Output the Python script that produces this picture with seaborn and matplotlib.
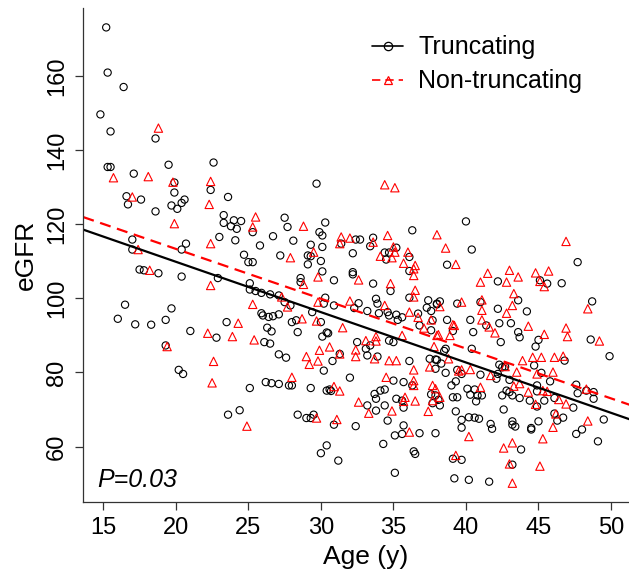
import numpy as np
import pandas as pd
import matplotlib
matplotlib.use("Agg")
import matplotlib.pyplot as plt
from matplotlib.lines import Line2D
import seaborn as sns

# Truncating (open circles)
trunc_age = [15.2, 15.3, 16.4, 14.8, 15.5, 18.6, 15.3, 15.5, 17.1, 19.5, 22.6, 19.9, 19.9, 22.4, 23.6, 16.6, 17.6, 20.6,
             16.7, 19.7, 20.1, 20.4, 18.6, 23.3, 23.3, 24.0, 24.5, 23.8, 24.2, 25.3, 23.0, 24.1, 25.8, 17.0, 17.0, 20.7,
             20.4, 24.7, 25.0, 25.3, 17.5, 17.8, 18.8, 20.4, 22.9, 25.1, 25.1, 25.5, 25.9, 16.5, 16.0, 17.2, 18.3, 19.7,
             19.3, 21.0, 22.8, 23.5, 25.9, 26.0, 26.1, 19.3, 20.2, 20.5, 25.1, 23.6, 24.4,
             29.7, 27.5, 27.7, 30.3, 26.7, 28.1, 29.9, 30.1, 29.3, 30.1, 27.2, 29.1, 29.3, 30.0, 29.1, 30.1, 28.6, 30.9,
             32.4, 32.7, 31.4, 33.6, 33.4, 32.2, 36.3, 35.2, 34.4, 34.7, 34.5, 36.1, 36.1, 32.2, 32.2,
             28.6, 33.6, 34.8, 36.1, 37.4, 38.0, 26.5, 27.1, 27.9, 27.5, 26.4, 26.7, 27.1, 28.0, 28.3, 29.4, 30.3, 30.2,
             30.0, 30.9, 32.6, 32.3, 33.2, 33.8, 33.9, 34.0, 34.6, 34.7, 35.2, 35.3, 35.6, 36.7, 37.3, 37.6, 37.7, 36.8,
             37.6, 26.3, 26.6, 28.4, 30.4, 30.5, 30.1, 26.5, 27.1, 27.6, 26.2, 26.6, 27.1, 27.8, 28.0, 30.2, 30.8, 31.3,
             33.1, 33.2, 32.5, 33.4, 33.9, 34.7, 35.0, 36.1, 37.9, 32.0, 35.0, 35.7, 36.3, 29.3, 30.4, 30.6, 30.7, 33.7,
             34.1, 34.4, 33.8, 33.2, 33.8, 34.4, 35.2, 35.6, 35.7, 34.6, 28.4, 29.0, 29.3, 29.5, 30.9, 32.4, 35.7, 35.6,
             36.8, 35.1, 37.9, 34.3, 30.4, 30.0, 31.2, 36.4, 36.5, 35.1,
             40.0, 40.4, 38.7, 47.7, 42.2, 45.1, 45.6, 46.6, 43.6, 48.7, 41.0, 39.4, 38.2, 38.0, 42.2, 44.2, 38.7, 40.3,
             39.1, 40.5, 41.4, 42.3, 43.1, 43.6, 43.7, 42.4, 45.0, 44.8, 48.6, 38.6, 40.4,
             49.9, 46.8, 44.7, 45.2, 45.8, 42.3, 42.5, 42.2, 42.1, 42.7, 43.0, 44.9, 44.9, 45.4, 46.1, 44.4, 44.9, 47.4,
             47.6, 47.7, 48.3, 48.8, 48.8, 43.7, 43.0, 43.2, 42.5, 42.8, 42.6, 46.1, 46.3, 46.7, 45.0, 44.5, 44.5, 47.6,
             48.0, 49.5, 49.1, 43.2, 43.2, 43.4, 41.7, 41.8, 43.8, 43.2, 41.6, 40.2, 39.2, 39.1, 39.7, 39.3, 39.7, 39.7,
             40.2, 40.6, 40.9, 37.7, 38.2, 37.6, 37.9, 38.1, 39.0, 39.3, 39.1, 39.4, 39.4, 39.7, 41.0, 40.1, 40.6, 40.3,
             40.8, 41.1, 40.7, 37.5, 38.0, 38.3, 37.9, 38.6, 38.5]
trunc_egfr = [173.2, 161.0, 157.1, 149.7, 145.1, 143.2, 135.5, 135.5, 133.7, 136.1, 136.7, 131.3, 128.6, 129.3, 127.4,
              127.6, 126.7, 126.7,
              125.4, 125.1, 124.2, 125.8, 123.5, 122.5, 120.4, 121.1, 120.9, 119.5, 118.8, 117.9, 116.6, 115.7, 114.3,
              115.9, 113.2, 114.8, 113.2, 111.8, 109.8, 109.8, 107.8, 107.6, 106.8, 105.9, 105.5, 104.1, 102.4, 102.0,
              101.5, 98.3, 94.5, 93.0, 92.9, 97.3, 94.2, 91.2, 89.4, 93.6, 96.0, 95.4, 88.2, 87.3, 80.7, 79.6, 75.8,
              68.6, 69.8,
              131.0, 121.8, 119.3, 120.5, 116.8, 115.6, 117.9, 117.0, 114.5, 113.9, 111.6, 111.6, 111.4, 110.1, 109.2,
              107.3, 105.5, 104.9, 115.9, 115.9, 114.8, 116.4, 114.1, 112.2, 118.4, 113.7, 112.4, 112.4, 110.5, 111.2,
              107.4, 107.1, 106.5,
              104.4, 104.0, 102.0, 100.2, 99.5, 98.6, 101.1, 100.8, 98.1, 99.0, 95.0, 95.2, 95.7, 93.6, 94.1, 96.3,
              100.2, 98.6, 93.6, 98.1, 98.7, 97.4, 96.6, 99.9, 98.6, 96.0, 96.3, 95.4, 95.6, 94.2, 94.9, 95.9, 97.5,
              96.6, 94.1, 92.7, 91.4, 92.1, 91.1, 90.9, 90.8, 90.6, 89.7, 87.8, 84.9, 84.0, 77.4, 77.1, 76.9, 76.5,
              76.5, 80.5, 83.1, 85.0, 86.4, 84.6, 88.2, 87.3, 84.3, 88.6, 88.2, 83.1, 83.5, 78.6, 77.8, 77.4, 76.5,
              75.8, 75.1, 75.4, 75.0, 74.2, 75.1, 75.4, 72.9, 71.1, 69.7, 71.1, 72.9, 72.4, 70.5, 67.0, 68.6, 67.7,
              67.7, 68.6, 65.9, 65.5, 65.7, 63.4, 63.6, 63.0, 63.6, 60.7, 60.3, 58.2, 56.2, 58.7, 58.0, 52.9,
              120.8, 113.2, 109.1, 109.8, 104.6, 104.9, 104.0, 104.1, 99.5, 99.2, 99.0, 98.6, 99.2, 98.4, 97.2, 96.5,
              94.2, 94.2, 91.2, 90.9, 92.7, 93.3, 93.3, 90.9, 89.5, 88.2, 88.8, 87.0, 88.9, 86.4, 86.4,
              84.4, 83.2, 81.9, 79.9, 77.6, 82.1, 81.4, 79.6, 78.3, 81.6, 78.0, 76.5, 74.9, 72.4, 73.1, 72.4, 70.8,
              70.5, 76.7, 74.4, 75.1, 74.7, 72.9, 73.1, 74.7, 73.8, 73.8, 75.1, 70.0, 68.9, 67.0, 67.8, 66.8, 65.0,
              64.6, 63.4, 64.6, 67.3, 61.4, 66.8, 65.9, 65.4, 66.1, 64.8, 59.2, 55.1, 50.5, 51.0, 51.4, 56.7, 56.4,
              69.5, 67.2, 65.1, 67.9, 67.8, 67.5, 71.7, 71.1, 74.1, 73.8, 72.6, 76.5, 77.6, 73.3, 73.3, 80.7, 79.6,
              79.4, 75.6, 75.4, 74.0, 73.8, 73.8, 72.2, 83.7, 83.4, 82.4, 81.0, 79.9, 85.8]

# Non-truncating (open triangles)
nontrunc_age = [18.8, 15.7, 18.1, 19.8, 22.4, 17.0,
                22.3, 25.5, 25.3, 19.9, 22.4, 17.4, 18.2, 22.4, 25.3, 24.3, 22.2, 23.9, 25.4, 19.4, 22.6, 22.5, 24.9,
                34.4, 35.1, 28.8, 27.9, 29.5, 29.8, 31.4, 32.0, 31.3, 33.6, 34.6, 38.0, 35.0, 34.1, 34.9, 35.1, 36.0,
                35.7, 36.5, 36.4, 36.4, 32.6,
                28.8, 34.8, 36.5, 36.4, 27.3, 27.7, 28.7, 29.8, 29.7, 32.0, 34.4, 36.1, 36.7, 37.6, 37.1, 38.0, 31.5,
                28.0, 29.0, 29.2, 29.8, 29.9, 30.6, 31.3, 32.4, 32.4, 33.1, 33.8, 33.8, 33.7, 35.6, 34.7, 35.2, 36.4,
                37.5, 37.8, 34.5, 36.4, 36.4, 37.7, 37.9, 30.9, 31.3, 32.6, 33.3, 34.9, 35.8, 35.7, 36.5, 37.4, 29.7,
                31.1, 36.1,
                38.6, 39.3, 46.9, 41.5, 43.0, 43.6, 42.8, 44.8, 45.7, 45.4, 45.1, 41.0, 43.3, 48.4, 41.1, 39.7, 38.2,
                41.1, 43.2, 42.8, 41.1, 39.1, 39.2, 38.1, 38.9, 41.6, 42.0, 44.3, 45.4, 46.9, 47.0, 49.2,
                43.9, 44.6, 45.2, 46.1, 46.7, 43.5, 44.9, 46.0, 42.7, 43.7, 43.3, 45.3, 45.6, 44.3, 44.8, 46.4, 46.9,
                48.3, 46.2, 46.0, 45.3, 48.4, 42.6, 43.2, 43.0, 45.1, 43.2, 39.3, 40.2, 37.7, 38.2, 39.5, 39.7, 40.3,
                41.7, 41.0, 38.8]
nontrunc_egfr = [146.0, 132.6, 132.9, 131.4, 131.6, 127.4,
                 125.4, 122.0, 119.3, 120.2, 114.8, 113.2, 107.6, 103.5, 98.4, 93.3, 90.6, 89.7, 88.8, 87.0, 83.0,
                 77.2, 65.5,
                 130.7, 129.9, 119.5, 111.0, 112.5, 105.8, 116.6, 116.3, 114.8, 115.2, 117.0, 117.2, 113.9, 111.4,
                 111.0, 112.5, 112.5, 109.5, 108.9, 108.0, 106.2, 105.0,
                 103.8, 104.0, 102.2, 100.4, 100.4, 97.7, 94.5, 99.0, 93.9, 99.3, 98.1, 96.3, 94.9, 94.2, 92.0, 90.0,
                 92.1, 78.7, 84.3, 82.2, 83.1, 86.0, 86.9, 85.0, 86.1, 84.3, 88.6, 89.7, 88.5, 83.7, 90.0, 83.2, 83.2,
                 80.7, 81.5, 87.0, 78.7, 77.8, 76.5, 76.5, 75.6, 76.2, 75.0, 72.0, 69.0, 69.6, 73.3, 72.2, 72.3, 69.5,
                 67.7, 67.3, 63.9,
                 113.6, 109.2, 115.4, 106.8, 107.6, 105.8, 104.4, 106.9, 107.4, 103.2, 104.6, 104.4, 101.3, 97.2,
                 99.6, 99.0, 97.8, 96.8, 98.1, 96.0, 94.2, 92.9, 92.7, 90.2, 90.0, 92.3, 90.7, 92.5, 90.3, 92.0, 89.7,
                 88.5,
                 83.2, 84.1, 84.1, 84.1, 84.4, 80.1, 79.6, 80.1, 81.6, 77.0, 76.3, 75.1, 74.9, 74.7, 71.4, 72.7, 71.5,
                 75.5, 68.8, 65.2, 62.1, 66.9, 59.6, 61.0, 55.3, 54.7, 50.1, 57.6, 62.7, 72.4, 73.3, 80.4, 80.7, 80.8,
                 79.2, 76.0, 83.7]

# fitted regression lines (intercept, slope)
groups = ["Truncating", "Non-truncating"]
fit_intercept = [137.1, 140.3]
fit_slope = [-1.36, -1.346]
p_text = "P=0.03"

df = pd.DataFrame({
    "Age": trunc_age + nontrunc_age,
    "eGFR": trunc_egfr + nontrunc_egfr,
    "Group": ["Truncating"] * len(trunc_age) + ["Non-truncating"] * len(nontrunc_age),
})

sns.set_style("ticks")
plt.rcParams["font.family"] = ["Liberation Sans", "DejaVu Sans"]
plt.rcParams.update({"text.color": "black", "axes.labelcolor": "black",
                     "xtick.color": "black", "ytick.color": "black"})

colors = {"Truncating": "black", "Non-truncating": "#ff0000"}
markers = {"Truncating": "o", "Non-truncating": "^"}
sizes = {"Truncating": 27, "Non-truncating": 36}
styles = {"Truncating": "-", "Non-truncating": (0, (5, 3))}

fig = plt.figure(figsize=(6.29, 5.82), dpi=100)
ax = fig.add_axes([0.1324, 0.138, 0.8978, 0.848])

for g in groups:
    sub = df[df["Group"] == g]
    sns.scatterplot(data=sub, x="Age", y="eGFR", marker=markers[g], s=sizes[g],
                    color=colors[g], edgecolor=colors[g], linewidth=0.8, ax=ax, legend=False)
    coll = ax.collections[-1]
    coll.set_facecolor("none")
    coll.set_edgecolor(colors[g])

for g, b0, b1 in zip(groups, fit_intercept, fit_slope):
    ax.axline((0, b0), slope=b1, color=colors[g], lw=1.6, linestyle=styles[g])

ax.set_xlim(13.62, 52.55)
ax.set_ylim(45.1, 178.4)
ax.set_xticks(np.arange(15, 51, 5))
ax.set_yticks(np.arange(60, 161, 20))
ax.tick_params(axis="both", direction="out", length=6, width=0.9, labelsize=17, pad=5,
               color="#333333", labelcolor="black")
plt.setp(ax.get_yticklabels(), rotation=90, va="center")
for s in ["top", "right"]:
    ax.spines[s].set_visible(False)
for s in ["left", "bottom"]:
    ax.spines[s].set_color("#333333")
    ax.spines[s].set_linewidth(0.9)

ax.set_xlabel("Age (y)", fontsize=19, labelpad=4)
ax.set_ylabel("eGFR", fontsize=19, labelpad=6)

ax.text(0.024, 0.03, p_text, transform=ax.transAxes, fontsize=18, style="italic", va="baseline", ha="left")

handles = [Line2D([], [], color=colors[g], linestyle=styles[g], lw=1.2, marker=markers[g],
                  markerfacecolor="none", markeredgecolor=colors[g], markersize=6, markeredgewidth=0.9)
           for g in groups]
ax.legend(handles, groups, loc="upper left", bbox_to_anchor=(0.494, 0.965), frameon=False, fontsize=18,
          handlelength=1.25, handletextpad=0.6, labelspacing=0.4, borderaxespad=0)

fig.savefig("out.png", dpi=100)
